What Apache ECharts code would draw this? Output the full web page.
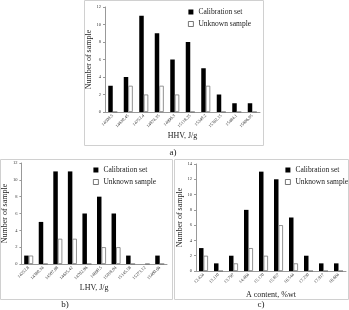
<!DOCTYPE html>
<html>
<head>
<meta charset="utf-8">
<script src="https://cdn.jsdelivr.net/npm/echarts@6/dist/echarts.min.js"></script>
<style>
  html, body { margin: 0; padding: 0; background: #fff; }
  #chart { width: 349px; height: 310px; }
</style>
</head>
<body>
<div id="chart"></div>
<script>
var hhvLabels = ['14508.5', '14630.45', '14752.4', '14874.35', '14996.3', '15118.25', '15240.2', '15362.15', '15484.1', '15606.05']
var hhvCalib = [3, 4, 11, 9, 6, 8, 5, 2, 1, 1]
var hhvUnknown = [0, 3, 2, 3, 2, 0, 3, 0, 0, 0]

var lhvLabels = ['14252.8', '14380.34', '14507.88', '14635.42', '14762.96', '14890.5', '15018.04', '15145.58', '15273.12', '15400.66']
var lhvCalib = [1, 5, 11, 11, 6, 8, 6, 1, 0, 1]
var lhvUnknown = [1, 0, 3, 3, 0, 2, 2, 0, 0, 0]

var ashLabels = ['12.424', '13.110', '13.797', '14.484', '15.170', '15.857', '16.544', '17.230', '17.917', '18.604']
var ashCalib = [3, 1, 2, 8, 13, 12, 7, 2, 1, 1]
var ashUnknown = [2, 0, 1, 3, 2, 6, 1, 0, 0, 0]

var FONT = 'Liberation Serif'
var chart = echarts.init(document.getElementById('chart'))

function xAx(idx, labels, name) {
  return {
    type: 'category',
    gridIndex: idx,
    data: labels,
    name: name,
    nameLocation: 'middle',
    nameGap: 20,
    nameTextStyle: { fontFamily: FONT, fontSize: 8, color: '#222' },
    axisLine: { lineStyle: { color: '#999', width: 1 } },
    axisTick: { length: 2, lineStyle: { color: '#999' } },
    axisLabel: { rotate: 45, fontFamily: FONT, fontSize: 4.5, color: '#333', margin: 3, interval: 0 }
  }
}

function yAx(idx, max) {
  return {
    type: 'value',
    gridIndex: idx,
    min: 0,
    max: max,
    interval: 2,
    name: 'Number of sample',
    nameLocation: 'middle',
    nameGap: 10,
    nameTextStyle: { fontFamily: FONT, fontSize: 8, color: '#222' },
    axisLine: { show: true, lineStyle: { color: '#999', width: 1 } },
    axisTick: { show: true, length: 2, lineStyle: { color: '#999' } },
    axisLabel: { fontFamily: FONT, fontSize: 4.5, color: '#333', margin: 4 },
    splitLine: { show: false }
  }
}

function calib(idx, data) {
  return {
    name: 'Calibration set',
    type: 'bar',
    xAxisIndex: idx,
    yAxisIndex: idx,
    data: data,
    barWidth: 4.5,
    barGap: '0%',
    itemStyle: { color: '#000' }
  }
}

function unknown(idx, data) {
  return {
    name: 'Unknown sample',
    type: 'bar',
    xAxisIndex: idx,
    yAxisIndex: idx,
    data: data,
    barWidth: 4.5,
    barGap: '0%',
    itemStyle: { color: '#fff', borderColor: '#777', borderWidth: 0.8 }
  }
}

function leg(idx, left, top) {
  var ts = { fontFamily: FONT, fontSize: 7.5, color: '#222' }
  return {
    data: [
      { name: 'Calibration set', itemStyle: { color: '#000' }, textStyle: ts },
      { name: 'Unknown sample', itemStyle: { color: '#fff', borderColor: '#555', borderWidth: 0.8 }, textStyle: ts }
    ],
    orient: 'vertical',
    left: left,
    top: top,
    padding: 0,
    itemWidth: 5,
    itemHeight: 5,
    itemGap: 4,
    icon: 'rect',
    selectedMode: false,
    textStyle: ts
  }
}

function frame(x, y, w, h) {
  return {
    type: 'rect',
    shape: { x: x, y: y, width: w, height: h },
    style: { fill: 'none', stroke: '#d0d0d0', lineWidth: 1 },
    silent: true
  }
}

function tag(text, x, y) {
  return {
    type: 'text',
    x: x,
    y: y,
    style: { text: text, font: '9px "Liberation Serif"', fill: '#222', textAlign: 'center', textVerticalAlign: 'middle' },
    silent: true
  }
}

chart.setOption({
  animation: false,
  grid: [
    { left: 105, top: 7, width: 155, height: 105 },
    { left: 21, top: 163, width: 146, height: 101 },
    { left: 196, top: 164, width: 150, height: 107 }
  ],
  legend: [leg(0, 188, 8), leg(1, 93, 166), leg(2, 285, 166)],
  xAxis: [
    xAx(0, hhvLabels, 'HHV, J/g'),
    xAx(1, lhvLabels, 'LHV, J/g'),
    xAx(2, ashLabels, 'A content, %wt')
  ],
  yAxis: [yAx(0, 12), yAx(1, 12), yAx(2, 14)],
  series: [
    calib(0, hhvCalib), unknown(0, hhvUnknown),
    calib(1, lhvCalib), unknown(1, lhvUnknown),
    calib(2, ashCalib), unknown(2, ashUnknown)
  ],
  graphic: [
    frame(84.5, 0.5, 179, 145),
    frame(0.5, 159.5, 172, 140),
    frame(174.5, 159.5, 174, 140),
    tag('a)', 173, 153),
    tag('b)', 65, 305),
    tag('c)', 261, 305)
  ]
})
</script>
</body>
</html>
